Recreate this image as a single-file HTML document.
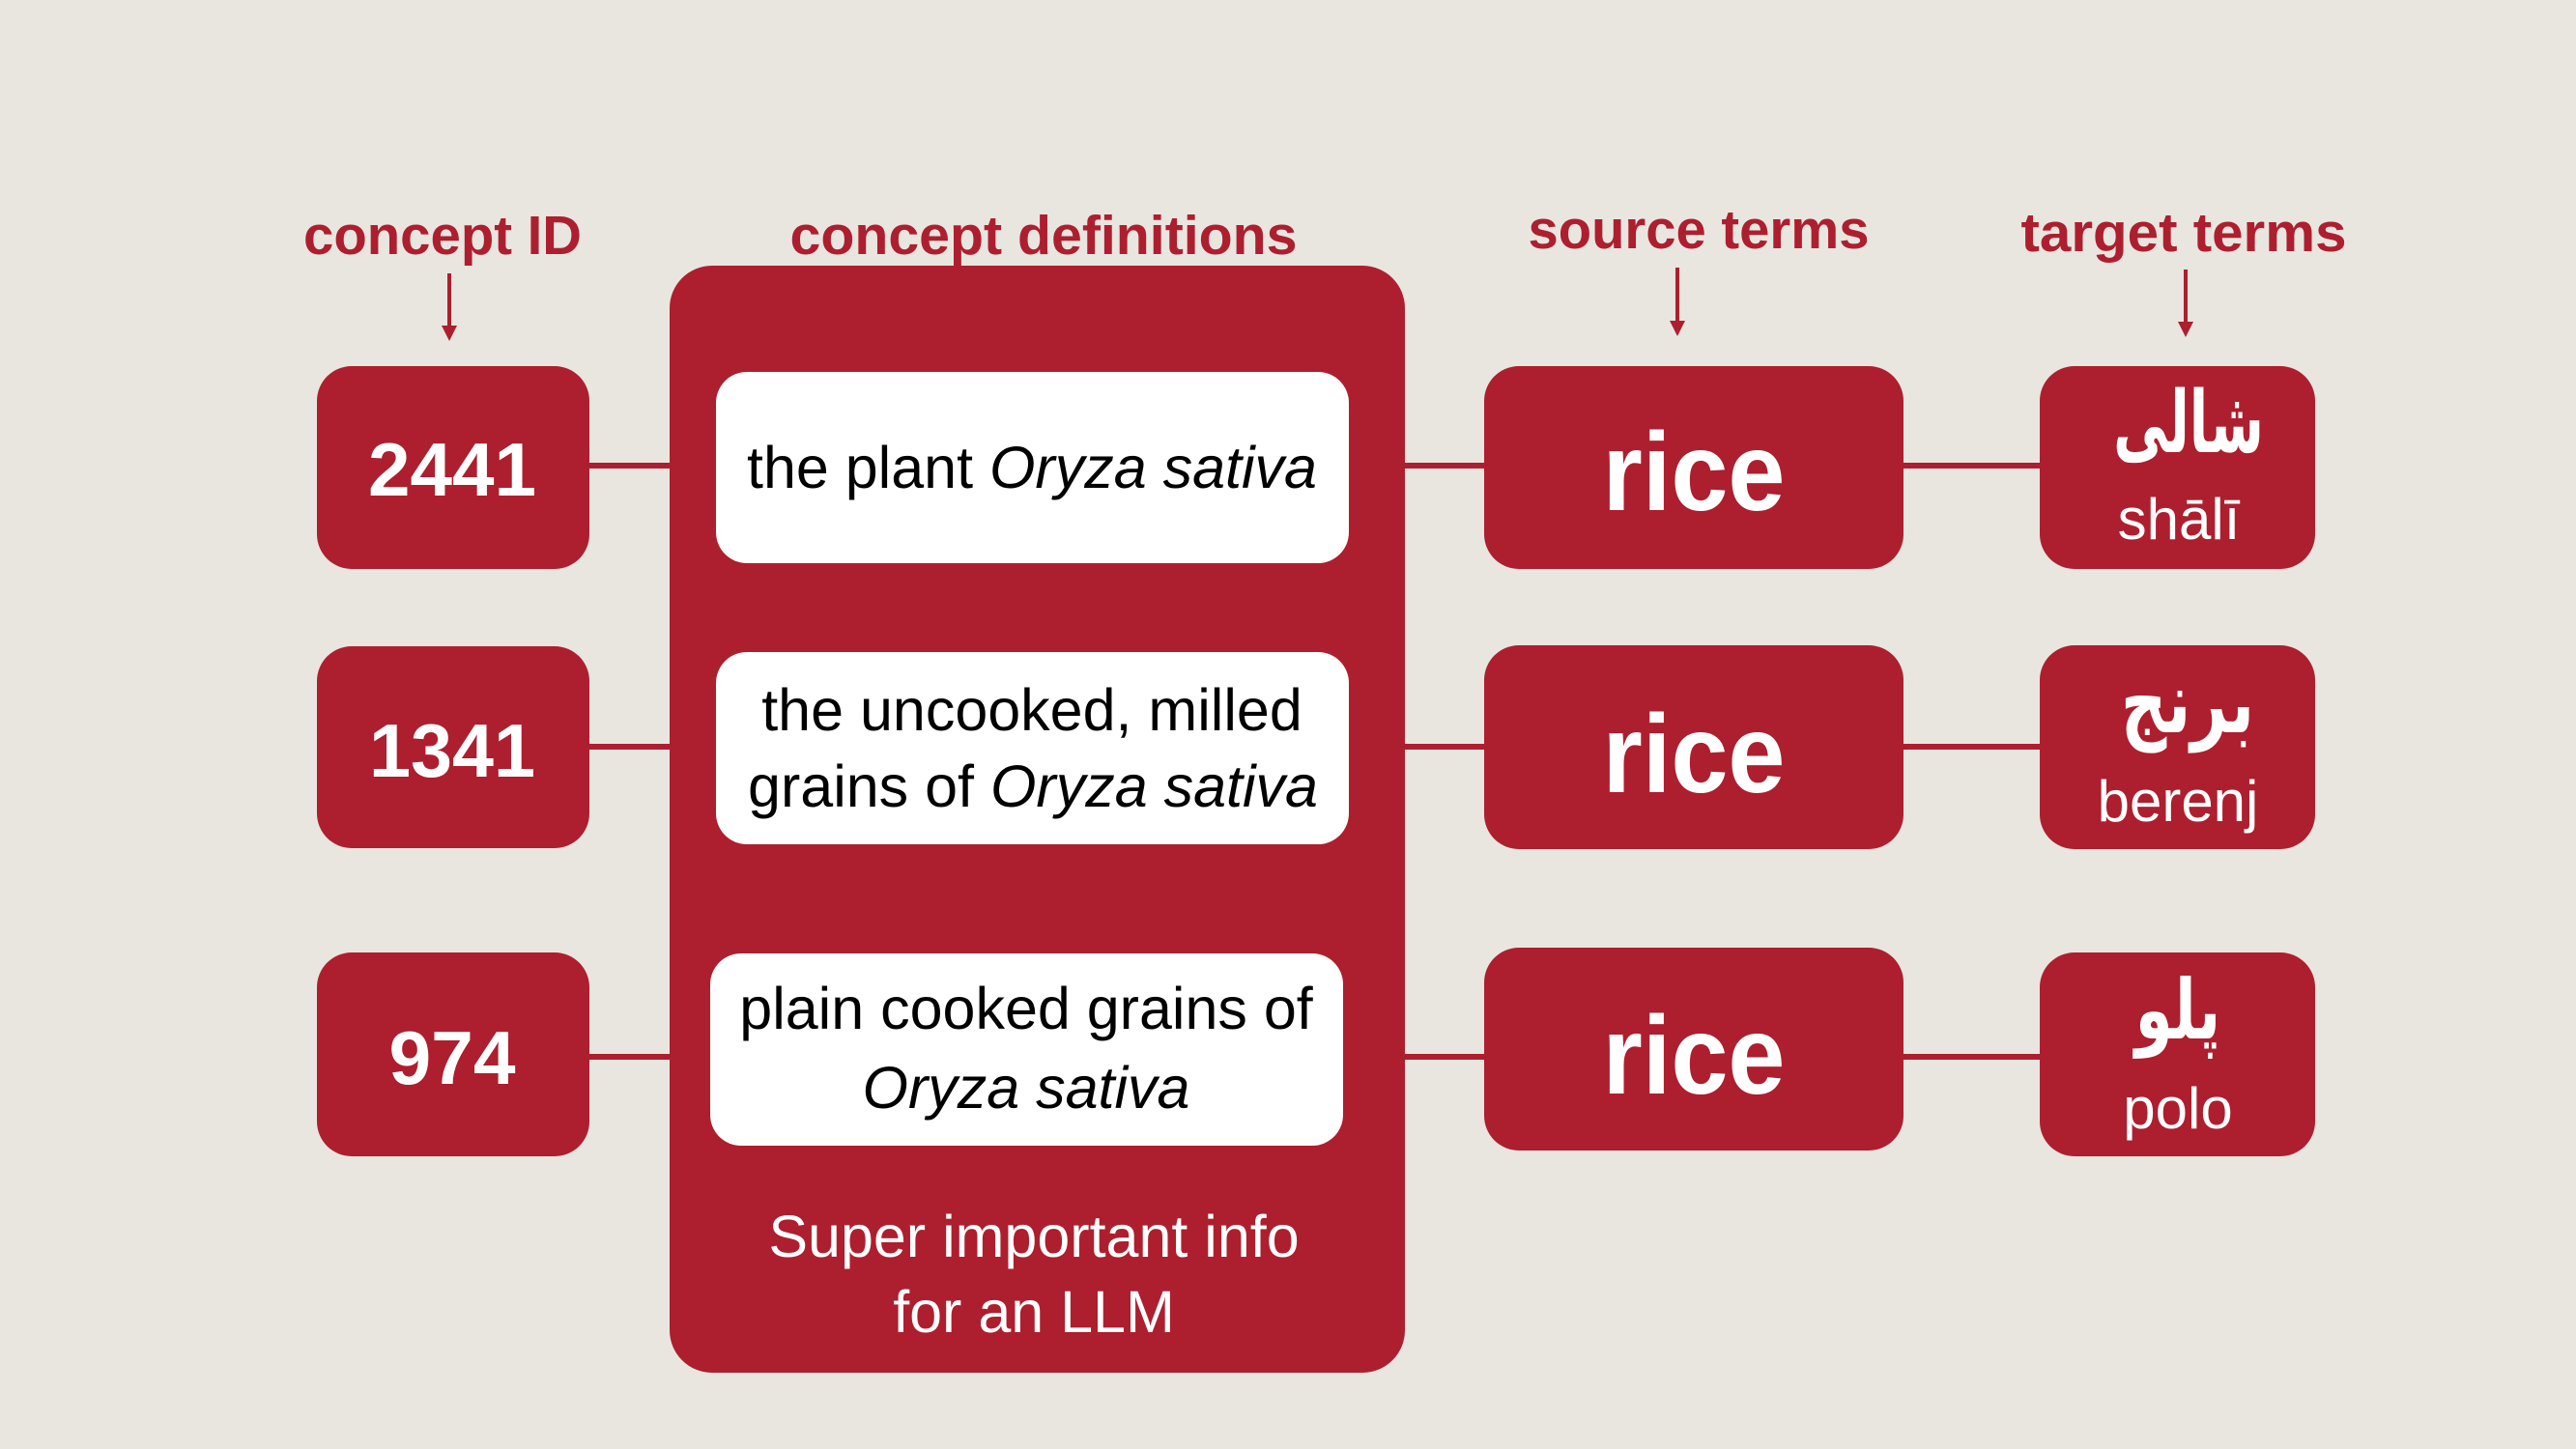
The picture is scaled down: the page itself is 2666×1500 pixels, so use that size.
<!DOCTYPE html>
<html>
<head>
<meta charset="utf-8">
<style>
  html, body { margin: 0; padding: 0; background: #E9E6E0; }
  body { width: 2666px; height: 1500px; overflow: hidden; }
  svg { display: block; }
</style>
</head>
<body>
<svg width="2666" height="1500" viewBox="0 0 2666 1500" xmlns="http://www.w3.org/2000/svg">
  <rect x="0" y="0" width="2666" height="1500" fill="#E9E6E0"/>

  <!-- Headings -->
  <g font-family="Liberation Sans, sans-serif" font-weight="bold" font-size="57" fill="#AD1F2E" text-anchor="middle">
    <text x="458" y="263" textLength="288" lengthAdjust="spacingAndGlyphs">concept ID</text>
    <text x="1080" y="263" textLength="525" lengthAdjust="spacingAndGlyphs">concept definitions</text>
    <text x="1758" y="257" textLength="353" lengthAdjust="spacingAndGlyphs">source terms</text>
    <text x="2260" y="260" textLength="337" lengthAdjust="spacingAndGlyphs">target terms</text>
  </g>

  <!-- Arrows -->
  <g fill="#AD1F2E" stroke="none">
    <rect x="463" y="283" width="4" height="56"/>
    <polygon points="457,337 473,337 465,353"/>
    <rect x="1734" y="277" width="4" height="56"/>
    <polygon points="1728,332 1744,332 1736,348"/>
    <rect x="2260" y="279" width="4" height="56"/>
    <polygon points="2254,333 2270,333 2262,349"/>
  </g>

  <!-- Connector lines -->
  <g fill="#AD1F2E">
    <rect x="600" y="479" width="1520" height="6"/>
    <rect x="600" y="770" width="1520" height="6"/>
    <rect x="600" y="1091" width="1520" height="6"/>
  </g>

  <!-- ID boxes -->
  <g fill="#AD1F2E">
    <rect x="328" y="379" width="282" height="210" rx="36" ry="36"/>
    <rect x="328" y="669" width="282" height="209" rx="36" ry="36"/>
    <rect x="328" y="986" width="282" height="211" rx="36" ry="36"/>
  </g>

  <!-- Definitions container -->
  <rect x="693" y="275" width="761" height="1146" rx="44" ry="44" fill="#AD1F2E"/>
  <g fill="#FFFFFF">
    <rect x="741" y="385" width="655" height="198" rx="32" ry="32"/>
    <rect x="741" y="675" width="655" height="199" rx="32" ry="32"/>
    <rect x="735" y="987" width="655" height="199" rx="32" ry="32"/>
  </g>

  <!-- Source boxes -->
  <g fill="#AD1F2E">
    <rect x="1536" y="379" width="434" height="210" rx="36" ry="36"/>
    <rect x="1536" y="668" width="434" height="211" rx="36" ry="36"/>
    <rect x="1536" y="981" width="434" height="210" rx="36" ry="36"/>
  </g>

  <!-- Target boxes -->
  <g fill="#AD1F2E">
    <rect x="2111" y="379" width="285" height="210" rx="36" ry="36"/>
    <rect x="2111" y="668" width="285" height="211" rx="36" ry="36"/>
    <rect x="2111" y="986" width="285" height="211" rx="36" ry="36"/>
  </g>

  <!-- ID numbers -->
  <g font-family="Liberation Sans, sans-serif" font-weight="bold" font-size="78" fill="#FFFFFF" text-anchor="middle">
    <text x="468" y="513" textLength="174" lengthAdjust="spacingAndGlyphs">2441</text>
    <text x="468" y="804" textLength="172" lengthAdjust="spacingAndGlyphs">1341</text>
    <text x="468" y="1122" textLength="131" lengthAdjust="spacingAndGlyphs">974</text>
  </g>

  <!-- Definition texts -->
  <g font-family="Liberation Sans, sans-serif" font-size="61" fill="#000000" text-anchor="middle">
    <text x="1068" y="505">the plant <tspan font-style="italic">Oryza sativa</tspan></text>
    <text x="1068" y="756">the uncooked, milled</text>
    <text x="1069" y="835">grains of <tspan font-style="italic">Oryza sativa</tspan></text>
    <text x="1062" y="1065">plain cooked grains of</text>
    <text x="1062" y="1147" font-style="italic">Oryza sativa</text>
  </g>
  <g font-family="Liberation Sans, sans-serif" font-size="61" fill="#FFFFFF" text-anchor="middle">
    <text x="1070" y="1301">Super important info</text>
    <text x="1070" y="1379">for an LLM</text>
  </g>

  <!-- Source terms -->
  <g font-family="Liberation Sans, sans-serif" font-weight="bold" font-size="115" fill="#FFFFFF" text-anchor="middle">
    <text x="1753" y="528" textLength="189" lengthAdjust="spacingAndGlyphs">rice</text>
    <text x="1753" y="820" textLength="189" lengthAdjust="spacingAndGlyphs">rice</text>
    <text x="1753" y="1132" textLength="189" lengthAdjust="spacingAndGlyphs">rice</text>
  </g>

  <!-- Target terms: Persian -->
  <g font-family="DejaVu Sans, sans-serif" font-weight="bold" font-size="66" fill="#FFFFFF" text-anchor="middle">
    <text x="0" y="0" direction="rtl" transform="translate(2265,468) scale(0.86,1.35)">شالی</text>
    <text x="0" y="0" direction="rtl" transform="translate(2264,758) scale(1,1.35)">برنج</text>
    <text x="0" y="0" direction="rtl" transform="translate(2254,1075) scale(0.95,1.3)">پلو</text>
  </g>

  <!-- Target terms: transliteration -->
  <g font-family="Liberation Sans, sans-serif" font-size="60" fill="#FFFFFF" text-anchor="middle">
    <text x="2255" y="558">shālī</text>
    <text x="2254" y="850">berenj</text>
    <text x="2254" y="1168">polo</text>
  </g>
</svg>
</body>
</html>
